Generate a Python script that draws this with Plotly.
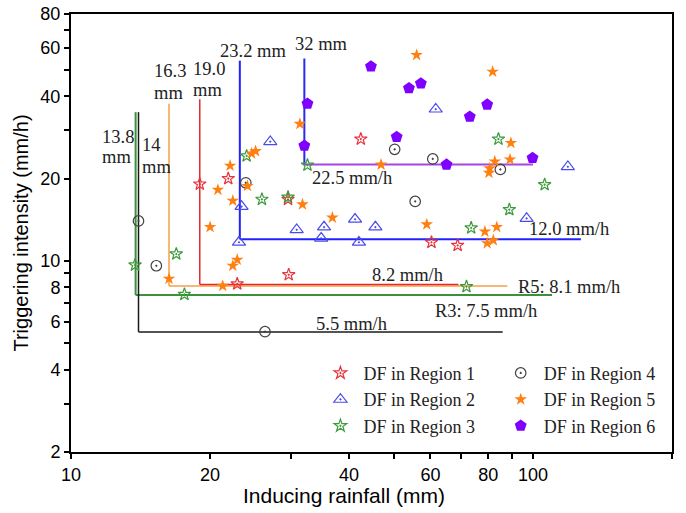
import numpy as np
import plotly.graph_objects as go

# ---- debris-flow events: inducing rainfall (mm) vs triggering intensity (mm/h) ----
r1_rain = [19.0, 21.9, 29.5, 29.6, 22.9, 42.4, 60.3, 68.7]
r1_int = [19.1, 20.0, 16.8, 8.9, 8.24, 27.9, 11.7, 11.4]

r2_rain = [27.0, 23.4, 23.1, 30.8, 35.3, 34.8, 41.2, 45.6, 42.0, 61.6, 119, 96.9]
r2_int = [27.3, 15.8, 11.7, 13.0, 13.3, 12.1, 14.2, 13.3, 11.7, 35.9, 22.1, 14.3]

r3_rain = [13.76, 16.9, 17.6, 24.0, 25.9, 29.5, 32.5, 73.5, 84.2, 106, 88.9, 71.8]
r3_int = [9.66, 10.6, 7.54, 24.2, 16.8, 17.1, 22.4, 13.2, 27.9, 19.0, 15.4, 8.05]

r4_rain = [14.0, 15.3, 23.9, 26.3, 50.2, 60.7, 55.6, 85.0]
r4_int = [14.0, 9.6, 19.3, 5.51, 25.6, 23.6, 16.5, 21.6]

r5_rain = [16.3, 20.0, 20.8, 22.1, 22.4, 22.9, 22.4, 21.3, 24.6, 25.1, 24.1, 31.7, 36.8,
           31.3, 56.0, 46.9, 58.9, 81.8, 89.6, 89.2, 82.7, 80.6, 80.3, 78.7, 83.5, 82.1, 79.6]
r5_int = [8.6, 13.3, 18.2, 22.3, 16.6, 10.1, 9.6, 8.1, 24.7, 25.2, 18.8, 16.1, 14.4,
          31.7, 56.6, 22.5, 13.6, 49.2, 27.0, 23.5, 23.1, 21.8, 21.0, 12.8, 13.3, 11.9, 11.6]

r6_rain = [32.5, 32.0, 44.6, 53.9, 57.2, 50.7, 65.0, 73.0, 79.6, 99.8]
r6_int = [37.6, 26.4, 51.4, 42.8, 44.6, 28.4, 22.5, 33.7, 37.3, 23.8]

# ---- rainfall thresholds per region ----
thr_names = ["R3", "R4", "R5", "R1", "R2", "R6"]
thr_rain = [13.8, 14.0, 16.3, 19.0, 23.2, 32.0]      # mm
thr_int = [7.5, 5.5, 8.1, 8.2, 12.0, 22.5]           # mm/h
thr_int_top = [35.0, 35.0, 37.6, 39.0, 54.0, 55.0]   # upper end of vertical segment
thr_rain_end = [110, 86, 88, 69, 127, 100]           # right end of horizontal segment

x_ticks = [10, 20, 30, 40, 50, 60, 70, 80, 90, 100, 200]
x_ticktext = ["10", "20", "", "40", "", "60", "", "80", "", "100", "200"]
y_ticks = [2, 3, 4, 5, 6, 7, 8, 9, 10, 20, 30, 40, 50, 60, 70, 80]
y_ticktext = ["2", "", "4", "", "6", "", "8", "", "10", "20", "", "40", "", "60", "", "80"]

SERIF = "Liberation Serif"
SANS = "Liberation Sans, Arial"

line_styles = {
    "R3": dict(v="#3a913a", h="#3a913a", w=2.0),
    "R4": dict(v="#1a1a1a", h="#1a1a1a", w=1.5),
    "R5": dict(v="#f4a048", h="#f4a048", w=1.5),
    "R1": dict(v="#e22a2a", h="#e22a2a", w=1.5),
    "R2": dict(v="#2222ff", h="#2222ff", w=2.0),
    "R6": dict(v="#2a2aee", h="#a347e6", w=2.0),
}

fig = go.Figure()

# threshold lines: vertical (rainfall) and horizontal (intensity) segments
for name, xr, yi, ytop, xend in zip(thr_names, thr_rain, thr_int, thr_int_top, thr_rain_end):
    st = line_styles[name]
    fig.add_trace(go.Scatter(x=[xr, xr], y=[ytop, yi], mode="lines",
                             line=dict(color=st["v"], width=st["w"]),
                             showlegend=False, hoverinfo="skip"))
    fig.add_trace(go.Scatter(x=[xr, xend], y=[yi, yi], mode="lines",
                             line=dict(color=st["h"], width=st["w"]),
                             showlegend=False, hoverinfo="skip"))

series = [
    ("DF in Region 1", r1_rain, r1_int, "star-open-dot", "#e8323c", 9.5, "legend"),
    ("DF in Region 2", r2_rain, r2_int, "triangle-up-open-dot", "#4b4bea", 11.5, "legend"),
    ("DF in Region 3", r3_rain, r3_int, "star-open-dot", "#3c9a3c", 9.5, "legend"),
    ("DF in Region 4", r4_rain, r4_int, "circle-open-dot", "#404040", 10.5, "legend2"),
    ("DF in Region 5", r5_rain, r5_int, "star", "#ff7f11", 9.5, "legend2"),
    ("DF in Region 6", r6_rain, r6_int, "pentagon", "#7f00ff", 12.5, "legend2"),
]
for name, xs, ys, sym, col, size, lg in series:
    filled = "open" not in sym
    fig.add_trace(go.Scatter(
        x=xs, y=ys, mode="markers", name=name, legend=lg,
        marker=dict(symbol=sym, color=col, size=size,
                    line=dict(color=col, width=0 if filled else 1.2)),
    ))

# threshold labels (left-anchored text, value positions in data units)
labels = [
    ("13.8", 11.55, 28.4), ("mm", 11.55, 23.9),
    ("14", 14.1, 26.6), ("mm", 14.1, 22.0),
    ("16.3", 14.97, 49.5), ("mm", 14.97, 41.1),
    ("19.0", 18.19, 50.5), ("mm", 18.19, 42.2),
    ("23.2 mm", 20.8, 58.6),
    ("32 mm", 30.3, 62.0),
    ("22.5 mm/h", 32.9, 20.1),
    ("12.0 mm/h", 97.1, 13.1),
    ("8.2 mm/h", 44.4, 8.88),
    ("R5: 8.1 mm/h", 91.8, 8.0),
    ("R3: 7.5 mm/h", 60.7, 6.56),
    ("5.5 mm/h", 33.6, 5.9),
]
for txt, lx, ly in labels:
    fig.add_annotation(x=np.log10(lx), y=np.log10(ly), text=txt, showarrow=False,
                       xanchor="left", yanchor="middle",
                       font=dict(family=SERIF, size=18.5, color="#222222"))

# x-axis title, set slightly left of the plot centre
fig.add_annotation(xref="paper", yref="paper", x=0.454, y=-0.1, text="Inducing rainfall (mm)",
                   showarrow=False, xanchor="center", yanchor="middle",
                   font=dict(family=SANS, size=21, color="black"))

axis_common = dict(
    type="log", showline=True, linecolor="black", linewidth=2, mirror=True,
    ticks="outside", ticklen=5, tickwidth=1.5, tickcolor="black",
    showgrid=False, zeroline=False, tickmode="array",
    tickfont=dict(family=SANS, size=18, color="black"),
)

legend_common = dict(
    font=dict(family=SERIF, size=18, color="#222222"),
    bgcolor="rgba(0,0,0,0)", borderwidth=0, itemwidth=36,
    xanchor="left", yanchor="top", tracegroupgap=0,
)

fig.update_layout(
    width=686, height=513,
    margin=dict(l=71, r=14, t=14, b=61, autoexpand=False),
    paper_bgcolor="white", plot_bgcolor="white",
    xaxis=dict(axis_common, range=[1, np.log10(200)],
               tickvals=x_ticks, ticktext=x_ticktext),
    yaxis=dict(axis_common, range=[np.log10(2), np.log10(80)],
               tickvals=y_ticks, ticktext=y_ticktext,
               title=dict(text="Triggering intensity (mm/h)", standoff=6,
                          font=dict(family=SANS, size=20, color="black"))),
    legend=dict(legend_common, x=0.41, y=0.222),
    legend2=dict(legend_common, x=0.71, y=0.222),
)

fig.write_html("out.html")
